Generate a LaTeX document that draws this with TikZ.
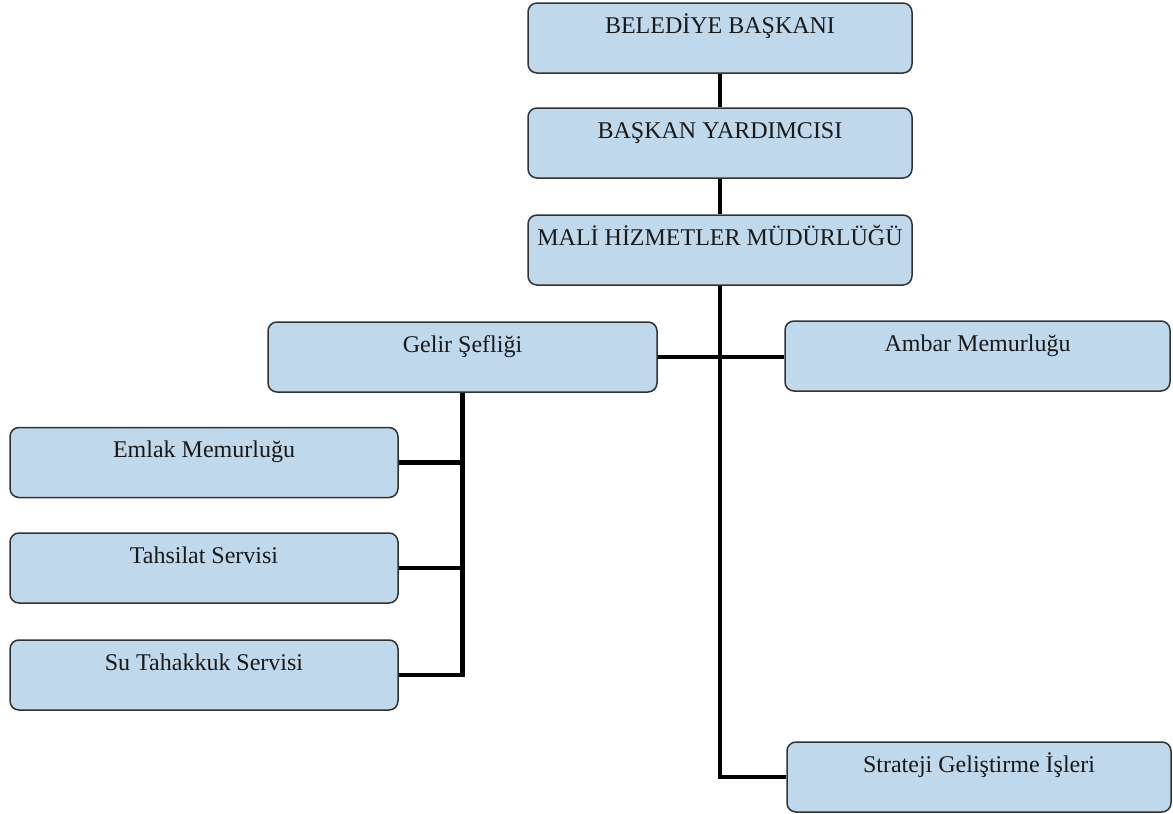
\documentclass[tikz,border=0pt]{standalone}
\usepackage{fontspec}
\setmainfont{Liberation Serif}
\definecolor{boxfill}{RGB}{192,216,236}
\definecolor{boxline}{RGB}{50,50,50}
\begin{document}
\begin{tikzpicture}[x=1pt,y=1pt,
  unit/.style={draw=boxline, line width=1.5pt, fill=boxfill, rounded corners=9pt,
    inner xsep=0pt, inner ysep=0pt, text height=30pt, text depth=40pt,
    font=\fontsize{24}{28}\selectfont, text=black!90},
  link/.style={line width=4.6pt, black}]
\useasboundingbox (0,0) rectangle (1173,-814);
\node[unit, minimum width=384pt] (b1) at (720,-38) {BELEDİYE BAŞKANI};
\node[unit, minimum width=384pt] (b2) at (720,-143) {BAŞKAN YARDIMCISI};
\node[unit, minimum width=384pt] (b3) at (720,-250) {MALİ HİZMETLER MÜDÜRLÜĞÜ};
\node[unit, minimum width=389pt] (gelir) at (462.5,-357) {Gelir Şefliği};
\node[unit, minimum width=385pt] (ambar) at (977.5,-356) {Ambar Memurluğu};
\node[unit, minimum width=388pt] (emlak) at (204,-462.5) {Emlak Memurluğu};
\node[unit, minimum width=388pt] (tahsilat) at (204,-568) {Tahsilat Servisi};
\node[unit, minimum width=388pt] (su) at (204,-675) {Su Tahakkuk Servisi};
\node[unit, minimum width=384pt] (strateji) at (979,-777) {Strateji Geliştirme İşleri};
\draw[link] (b1.south) -- (b2.north);
\draw[link] (b2.south) -- (b3.north);
\draw[link] (b3.south) |- (strateji.west);
\draw[link] (gelir.east) -- (gelir.east -| ambar.west);
\draw[link] (gelir.south) |- (su.east);
\draw[link] (emlak.east) -- (emlak.east -| gelir.south);
\draw[link] (tahsilat.east) -- (tahsilat.east -| gelir.south);
\end{tikzpicture}
\end{document}
